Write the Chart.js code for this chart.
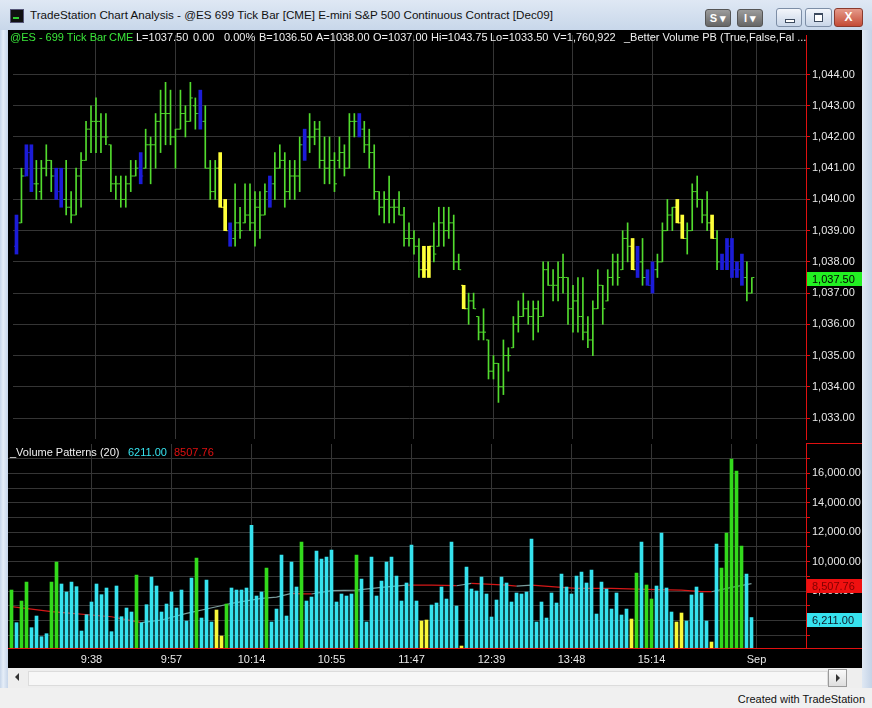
<!DOCTYPE html>
<html>
<head>
<meta charset="utf-8">
<script src="https://cdn.jsdelivr.net/npm/chart.js@4.4.0/dist/chart.umd.min.js"></script>
<style>
  body { margin: 0; width: 872px; height: 708px; overflow: hidden; position: relative;
         background: #c9d7ea; font-family: "Liberation Sans", Arial, sans-serif; }
  #titlebar { position: absolute; left: 0; top: 0; width: 872px; height: 30px;
              background: linear-gradient(#dfe8f4, #c8d7ea); }
  #titlebar .ico { position: absolute; left: 10px; top: 9px; width: 12px; height: 12px;
                   background: #111; border: 1px solid #557; }
  #titlebar .ico:after { content: ""; position: absolute; left: 2px; top: 7px; width: 6px; height: 2px; background: #3c3; }
  #titlebar .ttl { position: absolute; left: 30px; top: 8px; font-size: 11.65px; color: #111; white-space: nowrap; }
  .tbtn { position: absolute; top: 9px; height: 16px; border-radius: 3px; font-size: 11px; font-weight: bold;
          color: #fff; text-align: center; line-height: 16px; background: linear-gradient(#9c9c9c, #666);
          border: 1px solid #555; }
  .wbtn { position: absolute; top: 8px; height: 17px; border-radius: 3px; border: 1px solid #7d8ea6;
          background: linear-gradient(#f3f6fb, #c9d6e8); }
  .wbtn.min:after { content: ""; position: absolute; left: 8px; top: 10px; width: 8px; height: 2px;
                    background: #fff; border: 1px solid #3c4a5e; }
  .wbtn.max:after { content: ""; position: absolute; left: 8px; top: 4px; width: 7px; height: 6px;
                    border: 1px solid #3c4a5e; border-top-width: 2px; background: #fff; }
  .wbtn.close { background: linear-gradient(#e59a8a, #c44b36); border-color: #8a3a2e; color: #fff;
                font-weight: bold; font-size: 12px; text-align: center; line-height: 16px; }
  #frameL { position: absolute; left: 0; top: 30px; width: 8px; height: 658px;
            background: linear-gradient(90deg, #c6d5e9, #e6eef8 40%, #c6d5e9); }
  #frameR { position: absolute; left: 862px; top: 30px; width: 10px; height: 658px;
            background: linear-gradient(90deg, #dfe8f3, #c4d3e7); }
  #bg { position: absolute; left: 8px; top: 30px; width: 854px; height: 638px; background: #000; }
  canvas { position: absolute; left: 8px; }
  #priceCanvas { top: 30px; }
  #volCanvas { top: 444px; }
  .hdr { position: absolute; font-size: 11px; white-space: pre; color: #f0f0f0; }
  .redline { position: absolute; background: #e01010; }
  #scroll { position: absolute; left: 8px; top: 668px; width: 854px; height: 20px; background: #eeeeee; }
  #scroll .track { position: absolute; left: 20px; top: 3px; width: 798px; height: 13px; background: #f7f7f7; border: 1px solid #dcdcdc; }
  #scroll .larr { position: absolute; left: 7px; top: 5px; width: 0; height: 0;
                  border-top: 4px solid transparent; border-bottom: 4px solid transparent; border-right: 4px solid #333; }
  #scroll .rbtn { position: absolute; left: 820px; top: 1px; width: 17px; height: 16px; border: 1px solid #9a9a9a;
                  background: linear-gradient(#fafafa, #dedede); }
  #scroll .rbtn:after { content: ""; position: absolute; left: 7px; top: 4px; width: 0; height: 0;
                  border-top: 4px solid transparent; border-bottom: 4px solid transparent; border-left: 4px solid #333; }
  #status { position: absolute; left: 0; top: 688px; width: 872px; height: 20px; background: #f0f0f0; }
  #status span { position: absolute; right: 7px; top: 5px; font-size: 11px; color: #111; }
</style>
</head>
<body>
<div id="titlebar">
  <div class="ico"></div>
  <span class="ttl">TradeStation Chart Analysis - @ES 699 Tick Bar [CME] E-mini S&amp;P 500 Continuous Contract [Dec09]</span>
  <div class="tbtn" style="left:705px;width:24px">S &#9662;</div>
  <div class="tbtn" style="left:737px;width:24px">I &#9662;</div>
  <div class="wbtn min" style="left:776px;width:24px"></div>
  <div class="wbtn max" style="left:805px;width:25px"></div>
  <div class="wbtn close" style="left:834px;width:27px">X</div>
</div>
<div id="frameL"></div>
<div id="frameR"></div>
<div id="bg"></div>

<canvas id="priceCanvas" width="854" height="414"></canvas>
<canvas id="volCanvas" width="854" height="224"></canvas>

<!-- price panel header -->
<span class="hdr" style="left:10px;top:31px;color:#3ae63a">@ES - 699 Tick Bar</span>
<span class="hdr" style="left:109px;top:31px;color:#3ae63a">CME</span>
<span class="hdr" style="left:136px;top:31px">L=1037.50</span>
<span class="hdr" style="left:193px;top:31px">0.00</span>
<span class="hdr" style="left:224px;top:31px">0.00%</span>
<span class="hdr" style="left:259px;top:31px">B=1036.50</span>
<span class="hdr" style="left:316px;top:31px">A=1038.00</span>
<span class="hdr" style="left:373px;top:31px">O=1037.00</span>
<span class="hdr" style="left:431px;top:31px">Hi=1043.75</span>
<span class="hdr" style="left:490px;top:31px">Lo=1033.50</span>
<span class="hdr" style="left:553px;top:31px">V=1,760,922</span>
<span class="hdr" style="left:624px;top:31px">_Better Volume PB (True,False,Fal ...</span>

<!-- volume panel header -->
<span class="hdr" style="left:10px;top:446px">_Volume Patterns (20)</span>
<span class="hdr" style="left:128px;top:446px;color:#36e2ee">6211.00</span>
<span class="hdr" style="left:174px;top:446px;color:#e01010">8507.76</span>

<div class="redline" style="left:806px;top:443px;width:56px;height:1px"></div>
<div class="redline" style="left:806px;top:648px;width:56px;height:1px"></div>

<div id="scroll"><div class="track"></div><div class="larr"></div><div class="rbtn"></div></div>
<div id="status"><span>Created with TradeStation</span></div>

<script>
// ---- data: one entry per 699-tick bar ----
const highs = [
  1039.5, 1041.0, 1041.75, 1041.75, 1041.25, 1041.25, 1041.75, 1041.25, 1041.0, 1041.0,
  1041.25, 1040.25, 1041.0, 1041.5, 1042.5, 1043.0, 1043.25, 1042.75, 1042.75, 1041.75,
  1040.75, 1040.75, 1040.75, 1041.25, 1041.25, 1041.5, 1042.25, 1042.0, 1042.75, 1043.5,
  1043.75, 1043.5, 1042.25, 1043.5, 1043.0, 1043.75, 1043.25, 1043.5, 1043.0, 1041.25,
  1041.25, 1041.5, 1040.0, 1039.25, 1040.5, 1039.75, 1040.5, 1040.5, 1040.25, 1040.25,
  1040.5, 1040.75, 1041.5, 1041.75, 1041.5, 1041.25, 1041.25, 1042.0, 1042.25, 1042.75,
  1042.5, 1042.5, 1042.0, 1042.0, 1041.5, 1042.0, 1041.75, 1042.75, 1042.75, 1042.75,
  1042.5, 1042.25, 1041.75, 1040.25, 1040.25, 1040.75, 1040.0, 1040.25, 1039.75, 1039.25,
  1039.0, 1038.75, 1038.5, 1038.5, 1039.25, 1039.75, 1039.75, 1039.75, 1039.5, 1038.25,
  1037.25, 1037.0, 1037.0, 1036.25, 1036.5, 1035.5, 1035.0, 1034.75, 1035.5, 1035.25,
  1036.25, 1036.75, 1037.0, 1036.75, 1036.75, 1036.75, 1038.0, 1038.0, 1037.75, 1038.0,
  1038.25, 1037.5, 1037.25, 1037.5, 1037.5, 1036.25, 1036.75, 1037.75, 1037.25, 1037.75,
  1038.25, 1038.25, 1039.0, 1039.25, 1038.75, 1038.5, 1038.75, 1037.75, 1038.0, 1038.25,
  1039.25, 1040.0, 1039.75, 1040.0, 1039.5, 1039.25, 1040.5, 1040.75, 1040.0, 1040.25,
  1039.5, 1039.0, 1038.25, 1038.75, 1038.75, 1038.0, 1038.25, 1038.0, 1037.5
];
const lows = [
  1038.25, 1039.25, 1040.75, 1040.25, 1040.0, 1040.0, 1040.75, 1040.25, 1040.0, 1039.75,
  1039.5, 1039.25, 1039.5, 1039.75, 1041.25, 1041.5, 1041.5, 1041.5, 1041.75, 1040.25,
  1040.0, 1039.75, 1039.75, 1040.25, 1040.75, 1040.5, 1041.0, 1040.5, 1041.0, 1041.5,
  1041.75, 1041.75, 1041.0, 1042.25, 1042.0, 1042.5, 1042.25, 1042.25, 1041.0, 1040.0,
  1040.0, 1039.75, 1039.0, 1038.5, 1038.5, 1038.75, 1039.25, 1039.0, 1038.5, 1038.75,
  1039.5, 1039.75, 1040.0, 1041.0, 1039.75, 1040.0, 1040.0, 1040.25, 1041.25, 1041.5,
  1041.75, 1041.0, 1040.5, 1040.5, 1040.25, 1041.0, 1040.75, 1041.0, 1042.0, 1042.0,
  1041.5, 1041.0, 1040.0, 1039.5, 1039.25, 1039.25, 1039.25, 1039.5, 1038.5, 1038.5,
  1038.25, 1037.5, 1037.5, 1037.5, 1038.0, 1038.5, 1038.5, 1038.75, 1037.75, 1037.75,
  1036.5, 1036.0, 1036.5, 1035.5, 1035.5, 1034.25, 1034.25, 1033.5, 1033.75, 1034.5,
  1035.25, 1035.75, 1036.25, 1036.0, 1035.5, 1035.75, 1036.25, 1037.25, 1036.75, 1036.75,
  1037.0, 1036.0, 1035.75, 1035.75, 1035.5, 1035.25, 1035.0, 1036.5, 1036.0, 1036.75,
  1037.25, 1037.25, 1037.75, 1038.0, 1037.75, 1037.5, 1037.25, 1037.25, 1037.0, 1037.5,
  1038.0, 1039.0, 1039.0, 1039.25, 1038.75, 1038.25, 1039.0, 1039.75, 1039.25, 1039.0,
  1038.75, 1037.75, 1037.75, 1037.75, 1037.5, 1037.5, 1037.25, 1036.75, 1037.0
];
const opens = [
  1038.5, 1039.25, 1040.75, 1041.5, 1040.5, 1040.25, 1041.0, 1041.25, 1040.75, 1040.25,
  1040.0, 1039.75, 1039.5, 1040.75, 1041.25, 1042.25, 1042.5, 1042.5, 1042.0, 1041.75,
  1040.5, 1040.5, 1040.0, 1040.5, 1040.75, 1041.0, 1041.0, 1041.75, 1041.75, 1042.5,
  1042.75, 1042.75, 1042.0, 1042.25, 1042.75, 1042.5, 1043.0, 1042.75, 1042.5, 1041.0,
  1040.25, 1041.0, 1039.75, 1039.0, 1038.75, 1039.25, 1039.25, 1039.5, 1039.25, 1039.75,
  1039.5, 1040.25, 1040.5, 1041.0, 1041.25, 1040.25, 1040.75, 1040.75, 1041.75, 1042.0,
  1042.0, 1042.25, 1041.25, 1041.0, 1041.25, 1041.25, 1041.5, 1041.0, 1042.5, 1042.5,
  1042.25, 1041.75, 1041.5, 1040.25, 1039.75, 1040.0, 1039.75, 1039.75, 1039.5, 1038.75,
  1038.75, 1038.5, 1037.75, 1037.75, 1038.5, 1038.5, 1039.25, 1039.0, 1039.25, 1038.0,
  1037.25, 1036.5, 1036.75, 1036.25, 1035.75, 1035.5, 1034.5, 1034.75, 1034.0, 1035.0,
  1035.25, 1036.0, 1036.25, 1036.5, 1036.25, 1036.5, 1036.25, 1037.75, 1037.25, 1037.25,
  1037.5, 1037.5, 1036.5, 1036.75, 1036.25, 1035.75, 1035.5, 1036.5, 1037.25, 1036.75,
  1037.5, 1038.0, 1037.75, 1038.75, 1038.5, 1037.75, 1038.0, 1037.5, 1037.25, 1037.75,
  1038.0, 1039.0, 1039.5, 1039.75, 1039.25, 1038.75, 1039.0, 1040.25, 1040.0, 1039.5,
  1039.25, 1038.75, 1038.0, 1038.0, 1038.5, 1037.75, 1037.75, 1037.5, 1037.0
];
const closes = [
  1039.25, 1040.75, 1041.5, 1040.5, 1040.5, 1041.0, 1041.25, 1040.75, 1040.25, 1040.0,
  1039.75, 1039.5, 1040.75, 1041.25, 1042.25, 1042.5, 1042.5, 1042.0, 1042.0, 1040.5,
  1040.5, 1040.0, 1040.5, 1040.75, 1041.0, 1040.75, 1041.75, 1041.75, 1042.5, 1042.75,
  1042.75, 1042.0, 1042.25, 1042.75, 1042.5, 1043.25, 1042.75, 1042.5, 1041.0, 1040.25,
  1041.0, 1039.75, 1039.0, 1038.75, 1039.25, 1039.0, 1039.5, 1039.25, 1039.75, 1039.5,
  1040.25, 1040.5, 1041.0, 1041.25, 1040.25, 1040.75, 1040.75, 1041.75, 1042.0, 1042.0,
  1042.25, 1041.25, 1041.0, 1041.25, 1040.5, 1041.5, 1041.0, 1042.5, 1042.5, 1042.25,
  1041.75, 1041.5, 1040.25, 1039.75, 1040.0, 1039.75, 1039.75, 1039.5, 1038.75, 1038.75,
  1038.5, 1037.75, 1037.75, 1038.5, 1038.25, 1039.25, 1039.0, 1039.25, 1038.0, 1037.75,
  1036.5, 1036.75, 1036.5, 1035.75, 1035.75, 1034.5, 1034.75, 1034.0, 1035.0, 1035.0,
  1036.0, 1036.25, 1036.5, 1036.25, 1036.5, 1036.25, 1037.75, 1037.25, 1037.25, 1037.5,
  1037.5, 1036.5, 1036.75, 1036.25, 1035.75, 1035.5, 1036.5, 1037.25, 1036.5, 1037.5,
  1038.0, 1037.5, 1038.75, 1038.5, 1037.75, 1038.0, 1037.5, 1037.25, 1037.75, 1038.0,
  1039.0, 1039.5, 1039.75, 1039.25, 1038.75, 1039.0, 1040.25, 1040.0, 1039.5, 1039.25,
  1038.75, 1038.0, 1038.0, 1038.5, 1037.75, 1037.75, 1037.5, 1037.0, 1037.5
];
const volumes = [
  8078, 5861, 7331, 8621, 5521, 6313, 4910, 5114, 8621, 9979,
  8486, 7943, 8621, 8305, 5295, 6404, 7264, 8486, 7762, 8214,
  5250, 8350, 6268, 6856, 6585, 9097, 5861, 7083, 8961, 8350,
  6585, 7128, 7943, 6856, 8078, 5974, 8893, 10251, 6177, 8757,
  5906, 6721, 4955, 7128, 8214, 8078, 8078, 8214, 12469, 7671,
  7943, 9572, 5906, 6788, 10455, 6313, 9979, 8282, 11337, 7331,
  7603, 10726, 10183, 10319, 10794, 7264, 7807, 7671, 7807, 10455,
  8825, 5906, 10319, 7671, 8689, 9979, 10319, 9029, 7331, 8554,
  11134, 7331, 5974, 6042, 7060, 7196, 8282, 7467, 11337, 6992,
  4277, 9640, 8146, 8011, 8961, 7807, 6245, 7400, 8961, 8554,
  7264, 7875, 7807, 7943, 11541, 5906, 7264, 6177, 7875, 7196,
  9165, 8282, 7807, 9029, 9300, 8554, 9436, 6449, 8621, 8146,
  6788, 7875, 6381, 6788, 6110, 9233, 11337, 8418, 7467, 8350,
  11948, 8214, 6585, 5906, 6517, 5974, 7739, 8282, 7875, 5974,
  4548, 11201, 9572, 11948, 16972, 16157, 11066, 9165, 6211
];
// volume pattern per bar: n = normal, h = high volume, l = low volume
const barType = [
  'hnhhnnnnhh', 'nnnnnnnnnn', 'nnnnnhnnnn', 'nnnnnnnhnn', 'nllhnnnnnn',
  'nhnnnnnnhn', 'nnnnnnnnnh', 'nnnnnnnnnn', 'nnllnnnnnn', 'lnnnnnnnnn',
  'nnnnnnnnnn', 'nnnnnnnnnn', 'nnnnlhnhhn', 'nnnllnnnnn', 'lnhhhhhnn'
].join('').split('');

// 20-bar volume average, read at a few bars
const avgIdx = [0, 8, 20, 26, 30, 35, 41, 44, 50, 53, 56, 58, 60, 64, 69, 74, 79, 84, 89,
                92, 96, 99, 101, 104, 108, 110, 113, 120, 127, 134, 138, 140, 144, 148];
const avgVal = [6945, 6606, 6266, 5861, 6042, 6497, 6945, 7176, 7515, 7600, 7850, 7810, 7810, 8031,
                8076, 8257, 8416, 8416, 8370, 8529, 8461, 8416, 8348, 8416, 8303, 8257, 8190, 8190,
                8122, 8076, 7963, 7963, 8257, 8507.76];

// time axis
const tickIdx = [16, 32, 48, 64, 80, 96, 112, 128, 144, 149];
const tickLabels = ['9:38', '9:57', '10:14', '10:55', '11:47', '12:39', '13:48', '15:14', '', 'Sep'];
const priceTicks = [1033, 1034, 1035, 1036, 1037, 1038, 1039, 1040, 1041, 1042, 1043, 1044];
const volTicks = [5000, 6000, 7000, 8000, 9000, 10000, 11000, 12000, 13000, 14000, 15000, 16000, 17000];

const lastPrice = 1037.50;
const lastVolume = 6211.00;
const lastAvg = 8507.76;

// ---- styling ----
const FONT = '"Liberation Sans", Arial, sans-serif';
const GRID = '#353535';
const AXIS_RED = '#e01010';
const LABEL = '#e8e8e8';
const PRICE_COL = { n: '#52db2e', h: '#1c1cd8', l: '#ffff3a' };
const VOL_COL = { n: '#36e2ee', h: '#33da1c', l: '#f8f83a' };
const X_MIN = -0.7, X_MAX = 158.9;

Chart.defaults.font.family = FONT;
Chart.defaults.font.size = 11;

const fmt = v => v.toLocaleString('en-US', { minimumFractionDigits: 2, maximumFractionDigits: 2 });
const setTimeTicks = axis => { axis.ticks = tickIdx.map(v => ({ value: v })); };

// value boxes on the right axis
const markerPlugin = {
  id: 'markers',
  afterDraw(chart, args, opts) {
    const { ctx, chartArea } = chart;
    const y = chart.scales.y;
    (opts.items || []).forEach(m => {
      const py = Math.round(y.getPixelForValue(m.value));
      ctx.save();
      ctx.fillStyle = m.bg;
      ctx.fillRect(chartArea.right + 1, py - 5, chart.width - chartArea.right - 1, 14);
      ctx.fillStyle = m.fg;
      ctx.font = '11px ' + FONT;
      ctx.textBaseline = 'middle';
      ctx.fillText(m.text, chartArea.right + 6, py + 2.5);
      ctx.restore();
    });
  }
};

const baseOptions = {
  responsive: false,
  animation: false,
  devicePixelRatio: 1,
  events: [],
  layout: { padding: 0 },
  plugins: { legend: { display: false }, tooltip: { enabled: false } }
};

// ---- price chart ----
const idx = highs.map((h, i) => i);
const thin = idx.filter(i => barType[i] === 'n');
const thick = idx.filter(i => barType[i] !== 'n');

new Chart(document.getElementById('priceCanvas'), {
  type: 'bar',
  data: {
    datasets: [
      {
        data: thin.map(i => ({ x: i, y: [lows[i], highs[i]] })),
        backgroundColor: PRICE_COL.n,
        barThickness: 1,
        grouped: false
      },
      {
        data: thick.map(i => ({ x: i, y: [lows[i], highs[i]] })),
        backgroundColor: thick.map(i => PRICE_COL[barType[i]]),
        barThickness: 3,
        grouped: false
      },
      {
        type: 'line',
        showLine: false,
        data: opens.map((o, i) => ({ x: i - 0.3, y: o })),
        pointStyle: 'line',
        pointRadius: 1,
        pointBorderWidth: 1,
        pointBorderColor: barType.map(t => PRICE_COL[t])
      },
      {
        type: 'line',
        showLine: false,
        data: closes.map((c, i) => ({ x: i + 0.3, y: c })),
        pointStyle: 'line',
        pointRadius: 1,
        pointBorderWidth: 1,
        pointBorderColor: barType.map(t => PRICE_COL[t])
      }
    ]
  },
  options: {
    ...baseOptions,
    plugins: {
      ...baseOptions.plugins,
      markers: { items: [{ value: lastPrice, text: fmt(lastPrice), bg: '#22f022', fg: '#000' }] }
    },
    scales: {
      x: {
        type: 'linear', min: X_MIN, max: X_MAX, offset: false,
        afterBuildTicks: setTimeTicks,
        grid: { color: GRID, drawTicks: false, offset: false },
        border: { display: false },
        ticks: { display: false },
        afterFit: s => { s.height = 0; s.paddingLeft = 0; s.paddingRight = 0; }
      },
      y: {
        position: 'right',
        min: 1032.328125, max: 1045.265625,
        afterBuildTicks: a => { a.ticks = priceTicks.map(v => ({ value: v })); },
        grid: { color: GRID, tickColor: AXIS_RED, tickLength: 4 },
        border: { color: AXIS_RED },
        ticks: { color: LABEL, padding: 2, callback: v => fmt(v) },
        afterFit: s => { s.width = 56; s.paddingTop = 0; s.paddingBottom = 0; }
      }
    }
  },
  plugins: [markerPlugin]
});

// ---- volume chart ----
new Chart(document.getElementById('volCanvas'), {
  type: 'bar',
  data: {
    datasets: [
      {
        data: volumes.map((v, i) => ({ x: i, y: v })),
        backgroundColor: barType.map(t => VOL_COL[t]),
        barThickness: 3,
        grouped: false,
        order: 1
      },
      {
        type: 'line',
        data: avgIdx.map((x, k) => ({ x: x, y: avgVal[k] })),
        borderWidth: 1.2,
        borderColor: '#d41818',
        pointRadius: 0,
        tension: 0,
        order: 2,
        segment: {
          borderColor: c => c.p1.parsed.y > c.p0.parsed.y ? '#7a9c9c' : '#d41818'
        }
      }
    ]
  },
  options: {
    ...baseOptions,
    plugins: {
      ...baseOptions.plugins,
      markers: {
        items: [
          { value: lastAvg, text: fmt(lastAvg), bg: '#f01010', fg: '#800000' },
          { value: lastVolume, text: fmt(lastVolume), bg: '#36e2ee', fg: '#101828' }
        ]
      }
    },
    scales: {
      x: {
        type: 'linear', min: X_MIN, max: X_MAX, offset: false,
        afterBuildTicks: setTimeTicks,
        grid: { color: GRID, drawTicks: false, offset: false },
        border: { color: AXIS_RED },
        ticks: {
          color: LABEL, padding: 5, maxRotation: 0, autoSkip: false,
          callback: v => tickLabels[tickIdx.indexOf(v)]
        },
        afterFit: s => { s.height = 20; s.paddingLeft = 0; s.paddingRight = 0; }
      },
      y: {
        position: 'right',
        min: 4143, max: 17989,
        afterBuildTicks: a => { a.ticks = volTicks.map(v => ({ value: v })); },
        grid: { color: GRID, tickColor: AXIS_RED, tickLength: 4 },
        border: { color: AXIS_RED },
        ticks: { color: LABEL, padding: 2, callback: v => (v % 2000 === 0 ? fmt(v) : '') },
        afterFit: s => { s.width = 56; s.paddingTop = 0; s.paddingBottom = 0; }
      }
    }
  },
  plugins: [markerPlugin]
});
</script>
</body>
</html>
